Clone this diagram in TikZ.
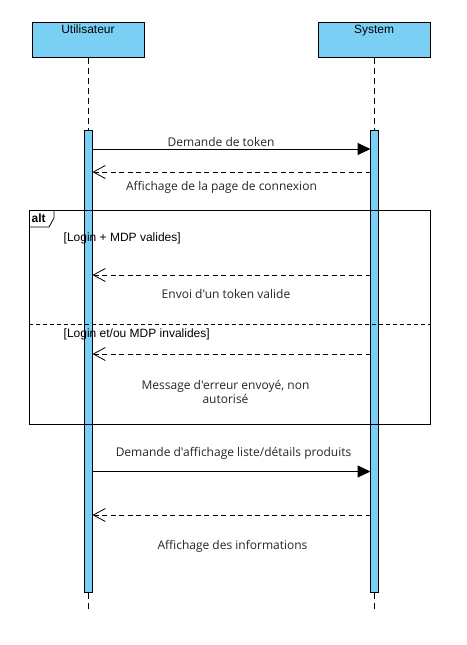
\documentclass[tikz,border=0pt]{standalone}
\usepackage{fontspec}
\setmainfont{Liberation Sans}
\newfontfamily\lblfont{Open Sans}
\usetikzlibrary{arrows.meta}
\definecolor{actblue}{RGB}{122,207,245}
\tikzset{
  actor/.style={draw=black, fill=actblue, line width=1pt, minimum width=112pt, minimum height=35pt, inner sep=0pt, anchor=north west},
  hdr/.style={font=\fontsize{12}{14}\selectfont, anchor=base, inner sep=0pt},
  actbar/.style={draw=black, fill=actblue, line width=0.8pt, minimum width=7.5pt, minimum height=462pt, inner sep=0pt, anchor=north},
  life/.style={draw=black, line width=0.8pt, dash pattern=on 6pt off 4pt},
  call/.style={draw=black, line width=1pt, -{Triangle[length=13pt,width=12pt]}},
  reply/.style={draw=black, line width=0.8pt, dash pattern=on 5pt off 3.5pt, -{Straight Barb[length=12pt,width=13pt,line width=0.8pt]}},
  msg/.style={font=\lblfont\fontsize{12}{14}\selectfont, anchor=base, inner sep=0pt, text=black!85},
  guard/.style={font=\fontsize{12}{14}\selectfont, anchor=base west, inner sep=0pt},
  frame/.style={draw=black, line width=1pt, minimum width=401pt, minimum height=214pt, inner sep=0pt, anchor=north west},
}
\begin{document}
\begin{tikzpicture}[x=1pt,y=-1pt]
\useasboundingbox (0,0) rectangle (466,645);
% actors
\node[actor] (u) at (32,22) {};
\node[actor] (s) at (318,22) {};
\node[hdr] (ut) at (88,33) {Utilisateur};
\node[hdr] (st) at (374,33) {System};
% activation bars
\node[actbar] (ua) at (88.5,130) {};
\node[actbar] (sa) at (374.5,130) {};
\coordinate (uend) at (88.5,612);
\coordinate (send) at (374.5,612);
\draw[life] (u.south -| ua.north) -- (ua.north);
\draw[life] (s.south -| sa.north) -- (sa.north);
\draw[life] (ua.south) -- (uend);
\draw[life] (sa.south) -- (send);
% alt frame
\node[frame] (alt) at (29,210) {};
\coordinate (tagA) at (54,210);
\coordinate (tagB) at (54,218);
\coordinate (tagC) at (49,227);
\coordinate (tagD) at (29,227);
\draw[line width=0.8pt] (tagA) -- (tagB) -- (tagC) -- (tagD);
\node[font=\bfseries\fontsize{12}{14}\selectfont, anchor=base west, inner sep=0pt] (altlbl) at (31.5,222) {alt};
\coordinate (sepL) at (29,324);
\coordinate (sepR) at (430,324);
\draw[line width=0.8pt, dash pattern=on 4pt off 3pt] (sepL) -- (sepR);
\node[guard] (g1) at (63.5,241) {[Login + MDP valides]};
\node[guard] (g2) at (63.5,337) {[Login et/ou MDP invalides]};
% message end points
\coordinate (m1a) at (92.5,149);  \coordinate (m1b) at (370.5,149);
\coordinate (m2a) at (92.5,172);  \coordinate (m2b) at (370.5,172);
\coordinate (m3a) at (92.5,275);  \coordinate (m3b) at (370.5,275);
\coordinate (m4a) at (92.5,354);  \coordinate (m4b) at (370.5,354);
\coordinate (m5a) at (92.5,471.5);\coordinate (m5b) at (370.5,471.5);
\coordinate (m6a) at (92.5,515);  \coordinate (m6b) at (370.5,515);
\draw[call] (m1a) -- (m1b);
\draw[reply] (m2b) -- (m2a);
\draw[reply] (m3b) -- (m3a);
\draw[reply] (m4b) -- (m4a);
\draw[call] (m5a) -- (m5b);
\draw[reply] (m6b) -- (m6a);
% labels
\node[msg] (l1) at (221,146) {Demande de token};
\node[msg] (l2) at (221.5,190.5) {Affichage de la page de connexion};
\node[msg] (l3) at (226,298) {Envoi d'un token valide};
\node[msg] (l4a) at (225.5,389) {Message d'erreur envoyé, non};
\node[msg] (l4b) at (225.5,403) {autorisé};
\node[msg] (l5) at (233.5,456) {Demande d'affichage liste/détails produits};
\node[msg] (l6) at (232.5,549.5) {Affichage des informations};
\end{tikzpicture}
\end{document}
